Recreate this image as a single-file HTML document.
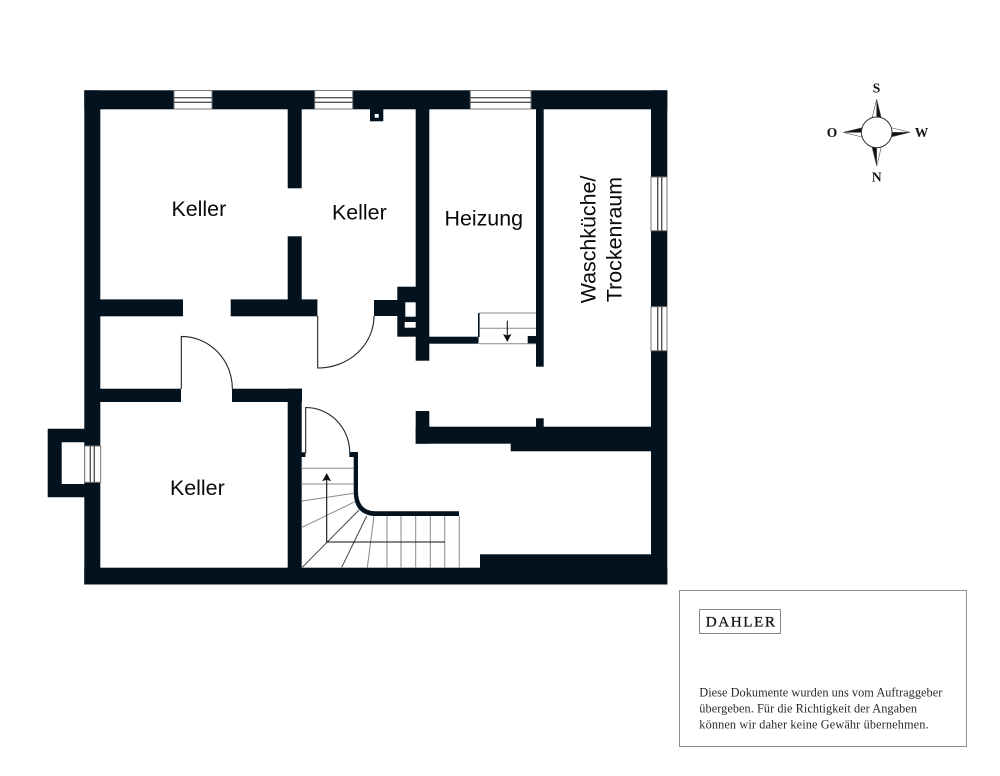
<!DOCTYPE html>
<html><head><meta charset="utf-8"><style>
html,body{margin:0;padding:0;background:#fff;width:1000px;height:776px;overflow:hidden}
svg{display:block}
.r{font-family:"Liberation Sans",sans-serif;font-size:21.4px;fill:#0a0a0a}
.c{font-family:"Liberation Serif",serif;font-weight:bold;font-size:13.5px;fill:#111;text-anchor:middle}
.t{font-family:"Liberation Serif",serif;font-size:12.3px;fill:#2a2a2a}
</style></head><body>
<svg width="1000" height="776" viewBox="0 0 1000 776" xmlns="http://www.w3.org/2000/svg">
<rect width="1000" height="776" fill="#fff"/>
<g fill="#02121f">
<!-- outer walls -->
<rect x="84.3" y="90.3" width="583" height="19"/>
<rect x="84.3" y="90.3" width="16" height="494.2"/>
<rect x="651" y="90.3" width="16.3" height="494.2"/>
<rect x="84.3" y="567.7" width="583" height="16.8"/>
<!-- left bay -->
<path fill-rule="evenodd" d="M47.7 428.7H85V497.3H47.7Z M61.7 442.3V484H85V442.3Z"/>
<!-- interior -->
<rect x="287.7" y="109" width="14" height="79.3"/>
<rect x="287.7" y="236.3" width="14" height="65"/>
<rect x="100" y="299.4" width="83" height="16.9"/>
<rect x="230.7" y="299.4" width="86.7" height="16.9"/>
<rect x="374" y="300" width="25" height="16"/>
<rect x="397.3" y="286.7" width="20" height="50"/>
<rect x="415.7" y="109" width="13.6" height="251.7"/>
<rect x="429" y="336.7" width="49.5" height="7"/>
<rect x="478" y="313" width="1.6" height="24"/>
<rect x="527.7" y="336" width="9" height="7.7"/>
<rect x="536" y="109" width="7.7" height="257.7"/>
<rect x="370" y="109" width="13.3" height="12.3"/>
<!-- lower -->
<rect x="536" y="418.3" width="7.7" height="9"/>
<rect x="415.7" y="411" width="13.6" height="32.7"/>
<rect x="415.7" y="426.7" width="236" height="17"/>
<rect x="510.7" y="440" width="141" height="11.3"/>
<rect x="480" y="554.3" width="172" height="14"/>
<rect x="100" y="388.7" width="81" height="13.3"/>
<rect x="232" y="388.7" width="70" height="13.3"/>
<rect x="287.7" y="388.7" width="14" height="180"/>
<rect x="301" y="452.3" width="4.5" height="4.7"/>
<rect x="349.3" y="452" width="8.7" height="5"/>
<path d="M353.7 452H358V491Q358 511.3 376 511.3H459V516H374Q353.7 514.5 353.7 491Z"/>
</g>
<!-- chimney flues & vent -->
<g fill="#fff">
<rect x="405.3" y="302.3" width="10.4" height="14.4"/>
<rect x="404.7" y="322" width="11" height="5.7"/>
<rect x="374.7" y="114" width="4" height="3.7"/>
</g>
<!-- windows top -->
<g fill="#fff" stroke="#777" stroke-width="1">
<rect x="174" y="90.5" width="38" height="18.5"/>
<rect x="314.7" y="90.5" width="38" height="18.5"/>
<rect x="470.3" y="90.5" width="60.7" height="18.5"/>
<rect x="651" y="177" width="16" height="53.7"/>
<rect x="651" y="306.7" width="16" height="44"/>
<rect x="84.7" y="446" width="16" height="36.3"/>
</g>
<g stroke="#555" stroke-width="1.4" fill="none">
<path d="M174 97.7H212M174 102.3H212M314.7 97.7H352.7M314.7 102.3H352.7M470.3 97.7H531M470.3 102.3H531"/>
<path d="M657.7 177V230.7M661.7 177V230.7M657.7 306.7V350.7M661.7 306.7V350.7"/>
<path d="M90.3 446V482.3M94.3 446V482.3"/>
</g>
<!-- doors -->
<g fill="none" stroke="#222" stroke-width="1.1">
<path d="M181.3 389V336.4A51 52 0 0 1 232.3 389"/>
<path d="M317.7 316V368A56 52 0 0 0 374 316"/>
<path d="M305.7 453V407.5A44 45 0 0 1 349.7 452"/>
</g>
<!-- small stairs -->
<g stroke="#888" stroke-width="1" fill="none">
<path d="M479 313H536M479 328.3H536M479 343.7H536"/>
</g>
<g stroke="#111" stroke-width="1.1" fill="none"><path d="M507.3 320.7V338"/></g>
<path d="M507.3 342L503 334L507.3 335.5L511.5 334Z" fill="#111"/>
<!-- main stairs -->
<g stroke="#8a8a8a" stroke-width="1" fill="none">
<path d="M302 468.3H354M302 484H354"/>
<path d="M387 516V568M401 516V568M415.7 516V568M430.3 516V568M444.7 516V568M459.3 516V568"/>
<path d="M302 501L354 493.3M302 527.3L355 501.7M367.3 567.5L374 516"/>
</g>
<g stroke="#444" stroke-width="1" fill="none">
<path d="M302.3 567.3L359 510M341.7 567.3L366.7 516"/>
</g>
<g stroke="#111" stroke-width="1.1" fill="none"><path d="M445 542H326.7V478"/></g>
<path d="M326.7 473L322.2 481.3L326.7 479.8L331 481.3Z" fill="#111"/>
<!-- labels -->
<text class="r" x="171.5" y="216">Keller</text>
<text class="r" x="332" y="219.5">Keller</text>
<text class="r" x="170" y="495">Keller</text>
<text class="r" x="444.5" y="225.3">Heizung</text>
<text class="r" text-anchor="middle" transform="translate(595.7 239.5) rotate(-90)">Waschküche/</text>
<text class="r" text-anchor="middle" transform="translate(621.7 239.5) rotate(-90)">Trockenraum</text>
<!-- compass -->
<g stroke="#555" stroke-width="0.6">
<path d="M876.7 99.3L872 118L876.7 118Z" fill="#fff"/>
<path d="M876.7 99.3L881.3 118L876.7 118Z" fill="#111"/>
<path d="M910 132.3L891 127.7L891 132.3Z" fill="#fff"/>
<path d="M910 132.3L891 137L891 132.3Z" fill="#111"/>
<path d="M876.7 166L881.3 147L876.7 147Z" fill="#fff"/>
<path d="M876.7 166L872 147L876.7 147Z" fill="#111"/>
<path d="M843.3 132.3L862 137L862 132.3Z" fill="#fff"/>
<path d="M843.3 132.3L862 127.7L862 132.3Z" fill="#111"/>
</g>
<circle cx="876.7" cy="132.3" r="15.3" fill="#fff" stroke="#333" stroke-width="1"/>
<text class="c" x="876.5" y="92.7">S</text>
<text class="c" x="876.7" y="181.7">N</text>
<text class="c" x="832" y="136.8">O</text>
<text class="c" x="921.5" y="136.8">W</text>
<!-- card -->
<rect x="679.5" y="590.5" width="287" height="156" fill="#fff" stroke="#8c8c8c" stroke-width="1"/>
<rect x="699.5" y="609.5" width="81" height="24" fill="#fff" stroke="#888" stroke-width="1"/>
<text x="705.7" y="626.4" textLength="69.3" lengthAdjust="spacing" style="font-family:'Liberation Serif',serif;font-size:15.2px;fill:#111;stroke:#111;stroke-width:0.25">DAHLER</text>
<text class="t" x="699.3" y="696.7" textLength="243" lengthAdjust="spacing">Diese Dokumente wurden uns vom Auftraggeber</text>
<text class="t" x="699.3" y="712.4" textLength="217.7" lengthAdjust="spacing">übergeben. Für die Richtigkeit der Angaben</text>
<text class="t" x="699.3" y="728.3" textLength="229.3" lengthAdjust="spacing">können wir daher keine Gewähr übernehmen.</text>
</svg>
</body></html>
